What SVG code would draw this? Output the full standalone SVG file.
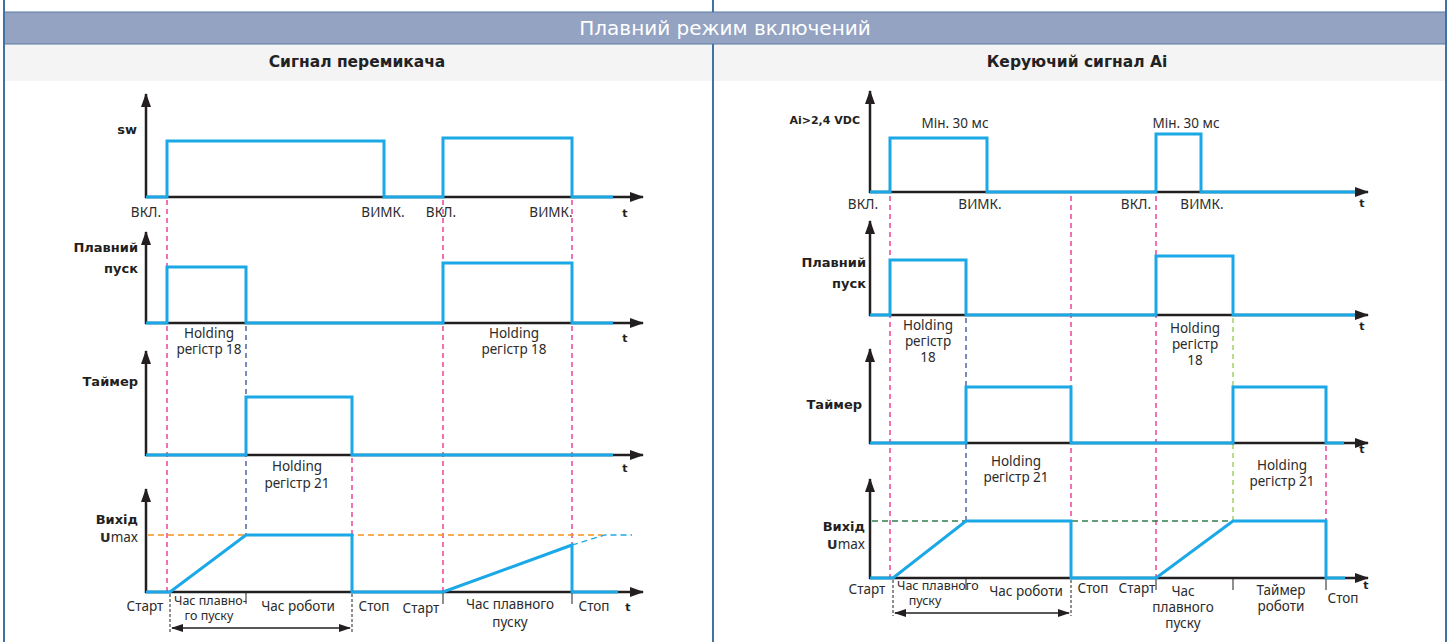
<svg xmlns="http://www.w3.org/2000/svg" width="1450" height="642" viewBox="0 0 1450 642">
<style>
.hdr{font-family:"DejaVu Sans",Verdana,sans-serif;font-size:20px;fill:#ffffff;text-anchor:middle}
.sub{font-family:"DejaVu Sans",Verdana,sans-serif;font-size:15.5px;font-weight:bold;fill:#222;text-anchor:middle}
.lb{font-family:"DejaVu Sans",Verdana,sans-serif;font-size:13px;font-weight:bold;fill:#231f20;text-anchor:end}
.lbs{font-family:"DejaVu Sans",Verdana,sans-serif;font-size:11px;font-weight:bold;fill:#231f20;text-anchor:end}
.tt{font-family:"DejaVu Sans",Verdana,sans-serif;font-size:11px;font-weight:bold;fill:#231f20;text-anchor:middle}
.tx{font-family:"Noto Sans","Open Sans",sans-serif;font-size:13.5px;fill:#2b2b2b;text-anchor:middle}
.txs{font-family:"Noto Sans","Open Sans",sans-serif;font-size:13.5px;fill:#2b2b2b;text-anchor:start}
.txe{font-family:"Noto Sans","Open Sans",sans-serif;font-size:13.5px;fill:#2b2b2b;text-anchor:end}
.sm{font-size:12.5px}
.ax{fill:none;stroke:#231f20;stroke-width:2.5;marker-end:url(#ah)}
.sig{fill:none;stroke:#1ba8e6;stroke-width:3}
.pk{fill:none;stroke:#e8157f;stroke-width:1.2;stroke-dasharray:5 4}
.nv{fill:none;stroke:#2e3a8c;stroke-width:1.2;stroke-dasharray:5 4}
.gr{fill:none;stroke:#8dc63f;stroke-width:1.2;stroke-dasharray:5 4}
.bk{fill:none;stroke:#231f20;stroke-width:1;stroke-dasharray:3 2}
.tk{fill:none;stroke:#231f20;stroke-width:1}
.or{fill:none;stroke:#f7941d;stroke-width:1.3;stroke-dasharray:6 4}
.bl{fill:none;stroke:#1ba8e6;stroke-width:1.3;stroke-dasharray:6 4}
.dg{fill:none;stroke:#2f7f4f;stroke-width:1.3;stroke-dasharray:6 4}
.dim{fill:none;stroke:#231f20;stroke-width:1.5;marker-start:url(#sa);marker-end:url(#sa)}
</style>
<defs>
<marker id="ah" viewBox="0 0 14 10" refX="13" refY="5" markerWidth="14" markerHeight="10" markerUnits="userSpaceOnUse" orient="auto"><path d="M0,0 L14,5 L0,10 z" fill="#231f20"/></marker>
<marker id="sa" viewBox="0 0 12 8" refX="11" refY="4" markerWidth="12" markerHeight="8" markerUnits="userSpaceOnUse" orient="auto-start-reverse"><path d="M0,0 L12,4 L0,8 z" fill="#231f20"/></marker>
</defs>
<rect x="0" y="0" width="1450" height="642" fill="#ffffff"/>
<g id="frame">
<rect x="4" y="44" width="1442" height="37" fill="#f4f4f4"/>
<rect x="4" y="12" width="1442" height="32" fill="#94a3c2" stroke="#5d7aa3" stroke-width="1"/>
<line x1="4" y1="0" x2="4" y2="642" stroke="#3f73a6" stroke-width="2"/>
<line x1="1446" y1="0" x2="1446" y2="642" stroke="#3f73a6" stroke-width="2"/>
<line x1="713" y1="0" x2="713" y2="12" stroke="#3f73a6" stroke-width="2"/>
<line x1="713" y1="44" x2="713" y2="642" stroke="#3f73a6" stroke-width="2"/>
<text class="hdr" x="725" y="35">Плавний режим включений</text>
<text class="sub" x="357" y="67">Сигнал перемикача</text>
<text class="sub" x="1077" y="67">Керуючий сигнал Ai</text>
</g>

<g id="connectors">
<path class="pk" d="M167,200 V592 M443,200 V592 M572,200 V545 M352,458 V535"/>
<path class="nv" d="M246,326 V535"/>
<path class="bk" d="M170,594 V632 M352,594 V632"/>
<path class="tk" d="M246,593 V604 M443,593 V604 M572,593 V604"/>
<path class="or" d="M148,535 H603"/>
<path class="bl" d="M572,545 L605,535 H632"/>
<path class="dim" d="M172,628 H350"/>
<path class="pk" d="M890,196 V578 M1071,196 V521 M1156,196 V578 M1326,446 V521"/>
<path class="nv" d="M966,318 V521"/>
<path class="gr" d="M1233,318 V521"/>
<path class="bk" d="M893,580 V616 M1071,580 V616"/>
<path class="tk" d="M966,579 V590 M1156,579 V590 M1233,579 V590 M1326,579 V590"/>
<path class="dg" d="M872,521 H1233"/>
<path class="dim" d="M895,613 H1069"/>
</g>

<g id="left-sw">
<path class="ax" d="M146,198 V94"/>
<path class="ax" d="M145,197 H643"/>
<path class="sig" d="M146,197 H167 V141 H384 V197 H443 V138 H572 V197 H613"/>
<text class="lb" x="137" y="134">sw</text>
<text class="tx" x="146" y="217">ВКЛ.</text>
<text class="tx" x="383" y="217">ВИМК.</text>
<text class="tx" x="441" y="217">ВКЛ.</text>
<text class="tx" x="551" y="217">ВИМК.</text>
<text class="tt" x="625" y="217">t</text>
</g>

<g id="left-pusk">
<path class="ax" d="M146,324 V232"/>
<path class="ax" d="M145,323 H643"/>
<path class="sig" d="M146,323 H167 V267 H246 V323 H443 V263 H572 V323 H613"/>
<text class="lb" x="138" y="252">Плавний</text>
<text class="lb" x="138" y="273">пуск</text>
<text class="tx" x="209" y="338">Holding</text>
<text class="tx" x="209" y="354">регістр 18</text>
<text class="tx" x="514" y="338">Holding</text>
<text class="tx" x="514" y="354">регістр 18</text>
<text class="tt" x="625" y="342">t</text>
</g>

<g id="left-timer">
<path class="ax" d="M146,456 V351"/>
<path class="ax" d="M145,455 H643"/>
<path class="sig" d="M146,455 H246 V397 H352 V455 H613"/>
<text class="lb" x="138" y="386">Таймер</text>
<text class="tx" x="297" y="471">Holding</text>
<text class="tx" x="297" y="488">регістр 21</text>
<text class="tt" x="625" y="472">t</text>
</g>

<g id="left-output">
<path class="ax" d="M146,593 V489"/>
<path class="ax" d="M145,592 H643"/>
<path class="sig" d="M146,592 H170 L246,535 H352 V592 H443 L572,545 V592 H618"/>
<text class="lb" x="138" y="524">Вихід</text>
<text class="txe" x="138" y="542"><tspan font-family="DejaVu Sans,Verdana,sans-serif" font-weight="bold" font-size="13">U</tspan>max</text>
<text class="tx" x="145" y="611">Старт</text>
<text class="txs sm" x="174" y="605">Час плавно-</text>
<text class="tx sm" x="209" y="620">го пуску</text>
<text class="tx" x="298" y="611">Час роботи</text>
<text class="tx" x="374" y="611">Стоп</text>
<text class="tx" x="421" y="613">Старт</text>
<text class="tx" x="510" y="609">Час плавного</text>
<text class="tx" x="510" y="627">пуску</text>
<text class="tx" x="594" y="611">Стоп</text>
<text class="tt" x="628" y="611">t</text>
</g>

<g id="right-ai">
<path class="ax" d="M870,193 V91"/>
<path class="ax" d="M869,192 H1368"/>
<path class="sig" d="M870,192 H890 V138 H987 V192 H1156 V134 H1201 V192 H1355"/>
<text class="lbs" x="860" y="124">Ai&gt;2,4 VDC</text>
<text class="tx" x="955" y="128">Мін. 30 мс</text>
<text class="tx" x="1186" y="128">Мін. 30 мс</text>
<text class="tx" x="863" y="209">ВКЛ.</text>
<text class="tx" x="980" y="209">ВИМК.</text>
<text class="tx" x="1136" y="209">ВКЛ.</text>
<text class="tx" x="1202" y="209">ВИМК.</text>
<text class="tt" x="1362" y="207">t</text>
</g>

<g id="right-pusk">
<path class="ax" d="M870,316 V221"/>
<path class="ax" d="M869,315 H1368"/>
<path class="sig" d="M870,315 H890 V260 H966 V315 H1156 V256 H1233 V315 H1355"/>
<text class="lb" x="866" y="267">Плавний</text>
<text class="lb" x="866" y="288">пуск</text>
<text class="tx" x="928" y="330">Holding</text>
<text class="tx" x="928" y="346">регістр</text>
<text class="tx" x="928" y="362">18</text>
<text class="tx" x="1195" y="333">Holding</text>
<text class="tx" x="1195" y="349">регістр</text>
<text class="tx" x="1195" y="365">18</text>
<text class="tt" x="1362" y="330">t</text>
</g>

<g id="right-timer">
<path class="ax" d="M870,444 V349"/>
<path class="ax" d="M869,443 H1368"/>
<path class="sig" d="M870,443 H966 V387 H1071 V443 H1233 V387 H1326 V443 H1344"/>
<text class="lb" x="862" y="409">Таймер</text>
<text class="tx" x="1016" y="466">Holding</text>
<text class="tx" x="1016" y="482">регістр 21</text>
<text class="tx" x="1282" y="470">Holding</text>
<text class="tx" x="1282" y="486">регістр 21</text>
<text class="tt" x="1362" y="453">t</text>
</g>

<g id="right-output">
<path class="ax" d="M870,579 V479"/>
<path class="ax" d="M869,578 H1368"/>
<path class="sig" d="M870,578 H893 L966,521 H1071 V578 H1156 L1233,521 H1326 V578 H1345"/>
<text class="lb" x="865" y="531">Вихід</text>
<text class="txe" x="865" y="549"><tspan font-family="DejaVu Sans,Verdana,sans-serif" font-weight="bold" font-size="13">U</tspan>max</text>
<text class="tx" x="867" y="594">Старт</text>
<text class="txs sm" x="897" y="590">Час плавного</text>
<text class="tx sm" x="925" y="605">пуску</text>
<text class="tx" x="1026" y="596">Час роботи</text>
<text class="tx" x="1093" y="593">Стоп</text>
<text class="tx" x="1137" y="593">Старт</text>
<text class="tx" x="1183" y="596">Час</text>
<text class="tx" x="1183" y="612">плавного</text>
<text class="tx" x="1183" y="628">пуску</text>
<text class="tx" x="1281" y="595">Таймер</text>
<text class="tx" x="1281" y="611">роботи</text>
<text class="tx" x="1343" y="603">Стоп</text>
<text class="tt" x="1366" y="589">t</text>
</g>
</svg>
